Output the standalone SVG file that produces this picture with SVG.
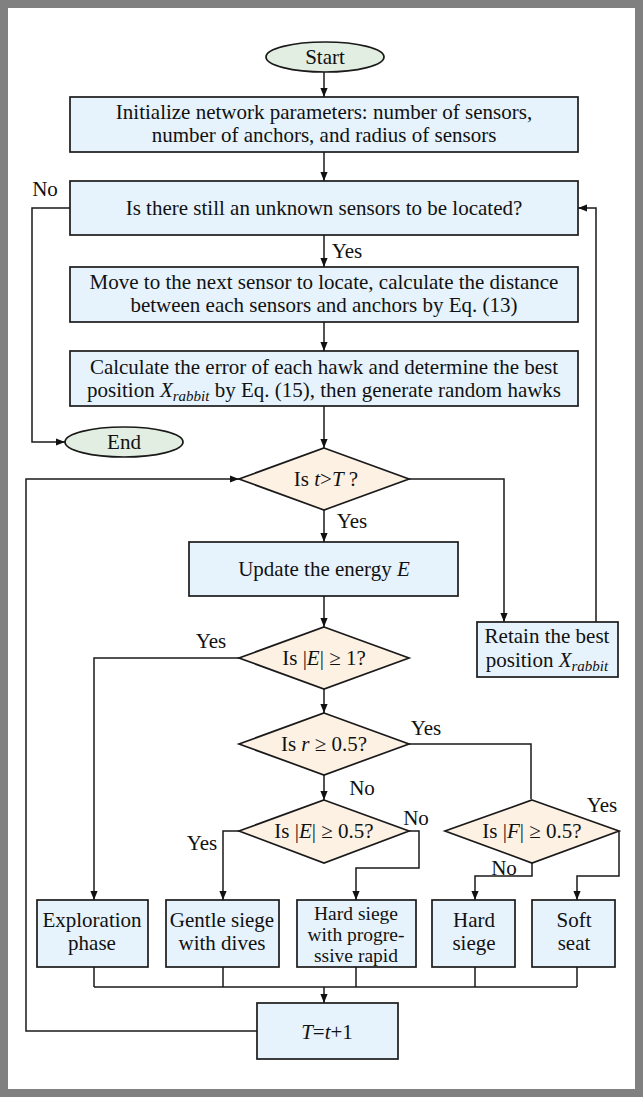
<svg xmlns="http://www.w3.org/2000/svg" width="643" height="1097" viewBox="0 0 643 1097">
  <style>
    .box { fill: #e6f3fc; stroke: #1a1a1a; stroke-width: 1.7; }
    .dia { fill: #fdf1e4; stroke: #1a1a1a; stroke-width: 1.7; }
    .term { fill: #e3eee3; stroke: #1a1a1a; stroke-width: 1.7; }
    .wire { fill: none; stroke: #1a1a1a; stroke-width: 1.5; }
    .arr { marker-end: url(#ah); }
    text { font-family: "Liberation Serif", "Times New Roman", serif; font-size: 21px; fill: #111; }
    .c { text-anchor: middle; }
    .i { font-style: italic; }
    .sub { font-style: italic; font-size: 15px; }
    .tight { font-size: 19.5px; }
  </style>
  <defs>
    <marker id="ah" viewBox="0 0 10 10" refX="10" refY="5" markerWidth="9" markerHeight="9" markerUnits="userSpaceOnUse" orient="auto">
      <path d="M0,1 L10,5 L0,9 Z" fill="#111"/>
    </marker>
  </defs>

  <!-- page frame -->
  <rect x="0" y="0" width="643" height="1097" fill="#ffffff"/>
  <rect x="4" y="4" width="635" height="1089" fill="none" stroke="#808080" stroke-width="8"/>

  <!-- connectors -->
  <g id="connectors">
    <path class="wire arr" d="M324,72 V97"/>
    <path class="wire arr" d="M324,152 V181"/>
    <path class="wire arr" d="M70,208 H32 V442 H65"/>
    <path class="wire arr" d="M324,235 V267"/>
    <path class="wire arr" d="M324,322 V351"/>
    <path class="wire arr" d="M324,406 V448"/>
    <path class="wire arr" d="M409,479 H504 V622"/>
    <path class="wire arr" d="M596,622 V208 H578"/>
    <path class="wire arr" d="M324,510 V542"/>
    <path class="wire arr" d="M257,1031 H26 V479 H239"/>
    <path class="wire arr" d="M324,596 V627"/>
    <path class="wire arr" d="M239,658 H94 V900"/>
    <path class="wire arr" d="M324,689 V713"/>
    <path class="wire" d="M409,744 H531 V799"/>
    <path class="wire arr" d="M324,775 V800"/>
    <path class="wire arr" d="M239,831 H223 V900"/>
    <path class="wire arr" d="M409,831 H419 V868 H356 V900"/>
    <path class="wire arr" d="M532,863 V876 H475 V900"/>
    <path class="wire arr" d="M619,831 V876 H577 V900"/>
    <path class="wire" d="M94,967 V987 M223,967 V987 M356,967 V987 M475,967 V987 M577,967 V987 M94,987 H577"/>
    <path class="wire arr" d="M324,987 V1003"/>
    <!-- branch labels -->
    <text x="45" y="196" class="c">No</text>
    <text x="347" y="258" class="c">Yes</text>
    <text x="352" y="528" class="c">Yes</text>
    <text x="211" y="648" class="c">Yes</text>
    <text x="426" y="735" class="c">Yes</text>
    <text x="362" y="795" class="c">No</text>
    <text x="416" y="825" class="c">No</text>
    <text x="202" y="850" class="c">Yes</text>
    <text x="504" y="875" class="c">No</text>
    <text x="602" y="812" class="c">Yes</text>
  </g>

  <g id="start">
    <ellipse class="term" cx="325" cy="57" rx="59" ry="15"/>
    <text x="325" y="64" class="c">Start</text>
  </g>

  <g id="init">
    <rect class="box" x="70" y="97" width="508" height="55"/>
    <text x="324" y="119" class="c">Initialize network parameters: number of sensors,</text>
    <text x="324" y="142" class="c">number of anchors, and radius of sensors</text>
  </g>

  <g id="unknown-left">
    <rect class="box" x="70" y="181" width="508" height="54"/>
    <text x="324" y="215" class="c">Is there still an unknown sensors to be located?</text>
  </g>

  <g id="next-sensor">
    <rect class="box" x="70" y="267" width="508" height="55"/>
    <text x="324" y="289" class="c">Move to the next sensor to locate, calculate the distance</text>
    <text x="324" y="312" class="c">between each sensors and anchors by Eq. (13)</text>
  </g>

  <g id="hawk-error">
    <rect class="box" x="70" y="351" width="508" height="55"/>
    <text x="324" y="374" class="c">Calculate the error of each hawk and determine the best</text>
    <text x="324" y="397" class="c">position <tspan class="i">X</tspan><tspan class="sub" dy="4">rabbit</tspan><tspan dy="-4"> by Eq. (15), then generate random hawks</tspan></text>
  </g>

  <g id="end">
    <ellipse class="term" cx="124" cy="442" rx="59" ry="15"/>
    <text x="124" y="449" class="c">End</text>
  </g>

  <g id="check-iter">
    <polygon class="dia" points="324,448 409,479 324,510 239,479"/>
    <text x="326" y="486" class="c">Is  <tspan class="i">t</tspan>&gt;<tspan class="i">T</tspan> ?</text>
  </g>

  <g id="update-energy">
    <rect class="box" x="189" y="542" width="269" height="54"/>
    <text x="324" y="576" class="c">Update the energy <tspan class="i">E</tspan></text>
  </g>

  <g id="retain">
    <rect class="box" x="477" y="622" width="141" height="55"/>
    <text x="547" y="643" class="c">Retain the best</text>
    <text x="547" y="667" class="c">position <tspan class="i">X</tspan><tspan class="sub" dy="4">rabbit</tspan></text>
  </g>

  <g id="check-e1">
    <polygon class="dia" points="324,627 409,658 324,689 239,658"/>
    <text x="324" y="665" class="c">Is |<tspan class="i">E</tspan>| ≥ 1?</text>
  </g>

  <g id="check-r">
    <polygon class="dia" points="324,713 409,744 324,775 239,744"/>
    <text x="324" y="751" class="c">Is  <tspan class="i">r</tspan> ≥ 0.5?</text>
  </g>

  <g id="check-e05">
    <polygon class="dia" points="324,800 409,831 324,863 239,831"/>
    <text x="324" y="838" class="c">Is |<tspan class="i">E</tspan>| ≥ 0.5?</text>
  </g>

  <g id="check-f">
    <polygon class="dia" points="532,800 619,831 532,863 445,831"/>
    <text x="532" y="838" class="c">Is |<tspan class="i">F</tspan>| ≥ 0.5?</text>
  </g>

  <g id="exploration">
    <rect class="box" x="37" y="900" width="111" height="67"/>
    <text x="92" y="927" class="c">Exploration</text>
    <text x="92" y="950" class="c">phase</text>
  </g>

  <g id="gentle-siege">
    <rect class="box" x="166" y="900" width="113" height="67"/>
    <text x="222" y="927" class="c">Gentle siege</text>
    <text x="222" y="950" class="c">with dives</text>
  </g>

  <g id="hard-siege-dives">
    <rect class="box" x="297" y="900" width="119" height="67"/>
    <text x="356" y="920" class="c tight">Hard siege</text>
    <text x="356" y="941" class="c tight">with progre-</text>
    <text x="356" y="962" class="c tight">ssive rapid</text>
  </g>

  <g id="hard-siege">
    <rect class="box" x="432" y="900" width="83" height="67"/>
    <text x="474" y="927" class="c">Hard</text>
    <text x="474" y="950" class="c">siege</text>
  </g>

  <g id="soft-seat">
    <rect class="box" x="532" y="900" width="83" height="67"/>
    <text x="574" y="927" class="c">Soft</text>
    <text x="574" y="950" class="c">seat</text>
  </g>

  <g id="next-iter">
    <rect class="box" x="257" y="1003" width="141" height="56"/>
    <text x="327" y="1039" class="c"><tspan class="i">T</tspan>=<tspan class="i">t</tspan>+1</text>
  </g>
</svg>
